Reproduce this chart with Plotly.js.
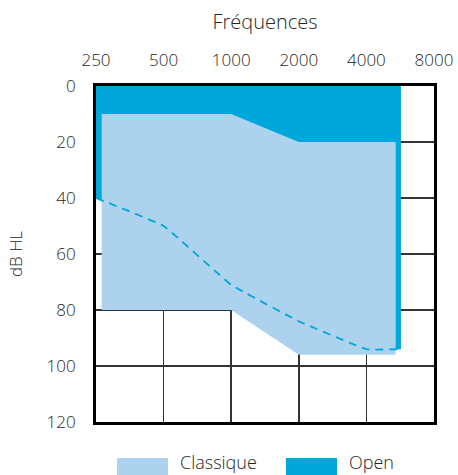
<!DOCTYPE html>
<html>
<head>
<meta charset="utf-8">
<script src="https://cdn.plot.ly/plotly-3.0.1.min.js"></script>
<style>html,body{margin:0;padding:0;background:#fff;}#chart{width:458px;height:475px;}</style>
</head>
<body>
<div id="chart"></div>
<script>
// Frequencies (Hz) used as tick labels on the top axis
const freqTicks = [250, 500, 1000, 2000, 4000, 8000];
const dbTicks = [0, 20, 40, 60, 80, 100, 120];

// "Open" fitting range: upper edge at 0 dB, lower edge = dashed line
const openTopFreq = [250, 5700];
const openTopDb = [0, 0];
const dashFreq = [250, 500, 1000, 2000, 4000, 5700];
const dashDb = [40, 50, 71, 84, 94, 94];

// "Classique" fitting range polygon
const classFreq = [265, 1000, 2000, 5400, 5400, 2000, 1000, 265];
const classDb = [10, 10, 20, 20, 96, 96, 80, 80];

const openColor = '#00a7db';
const classColor = '#acd2ed';
const textColor = '#262626';

const openX = openTopFreq.concat(dashFreq.slice().reverse());
const openY = openTopDb.concat(dashDb.slice().reverse());

const traces = [
  {x: openX, y: openY, type: 'scatter', mode: 'lines', fill: 'toself',
   fillcolor: openColor, line: {width: 0, color: openColor}, name: 'Open',
   showlegend: false, hoverinfo: 'skip'},
  {x: classFreq, y: classDb, type: 'scatter', mode: 'lines', fill: 'toself',
   fillcolor: classColor, line: {width: 0, color: classColor}, name: 'Classique',
   showlegend: false, hoverinfo: 'skip'},
  {x: dashFreq, y: dashDb, type: 'scatter', mode: 'lines',
   line: {color: openColor, width: 1.8, dash: '8px,6px', shape: 'spline', smoothing: 0.25},
   showlegend: false, hoverinfo: 'skip'}
];

const fam = '"Open Sans", "Noto Sans", sans-serif';
const font = {family: fam, size: 17, color: textColor, weight: 300};

const layout = {
  width: 458, height: 475,
  margin: {l: 96, r: 24, t: 86, b: 53, pad: 0},
  paper_bgcolor: '#fff', plot_bgcolor: '#fff',
  font: font,
  showlegend: false,
  xaxis: {
    type: 'log', side: 'top',
    range: [Math.log10(250), Math.log10(8000)],
    tickmode: 'array', tickvals: freqTicks, ticktext: freqTicks.map(String),
    tickfont: {family: fam, size: 17, color: textColor, weight: 300},
    showgrid: true, gridcolor: '#333', gridwidth: 1.5,
    showline: true, linecolor: '#000', linewidth: 3, mirror: true,
    ticks: '', ticklabelstandoff: 10,
    zeroline: false,
    title: {text: 'Fréquences', font: {family: fam, size: 20, color: textColor, weight: 300}, standoff: 14},
    fixedrange: true
  },
  yaxis: {
    range: [120, 0],
    tickmode: 'array', tickvals: dbTicks, ticktext: dbTicks.map(String),
    tickfont: {family: fam, size: 17, color: textColor, weight: 300},
    showgrid: true, gridcolor: '#333', gridwidth: 1.5,
    showline: true, linecolor: '#000', linewidth: 3, mirror: true,
    ticks: '', ticklabelstandoff: 14,
    zeroline: false,
    title: {text: 'dB HL', font: {family: fam, size: 17, color: textColor, weight: 300}, standoff: 20},
    fixedrange: true
  },
  shapes: [
    {type: 'rect', xref: 'paper', yref: 'paper', x0: 0.062, x1: 0.213, y0: -0.107, y1: -0.17,
     fillcolor: classColor, line: {width: 0}, layer: 'above'},
    {type: 'rect', xref: 'paper', yref: 'paper', x0: 0.562, x1: 0.713, y0: -0.107, y1: -0.17,
     fillcolor: openColor, line: {width: 0}, layer: 'above'}
  ],
  annotations: [
    {xref: 'paper', yref: 'paper', x: 0.243, y: -0.119, xanchor: 'left', yanchor: 'middle',
     text: 'Classique', showarrow: false, font: {family: fam, size: 18, color: textColor, weight: 300}},
    {xref: 'paper', yref: 'paper', x: 0.743, y: -0.119, xanchor: 'left', yanchor: 'middle',
     text: 'Open', showarrow: false, font: {family: fam, size: 18, color: textColor, weight: 300}}
  ]
};

Plotly.newPlot('chart', traces, layout, {displayModeBar: false, staticPlot: true});
</script>
</body>
</html>
